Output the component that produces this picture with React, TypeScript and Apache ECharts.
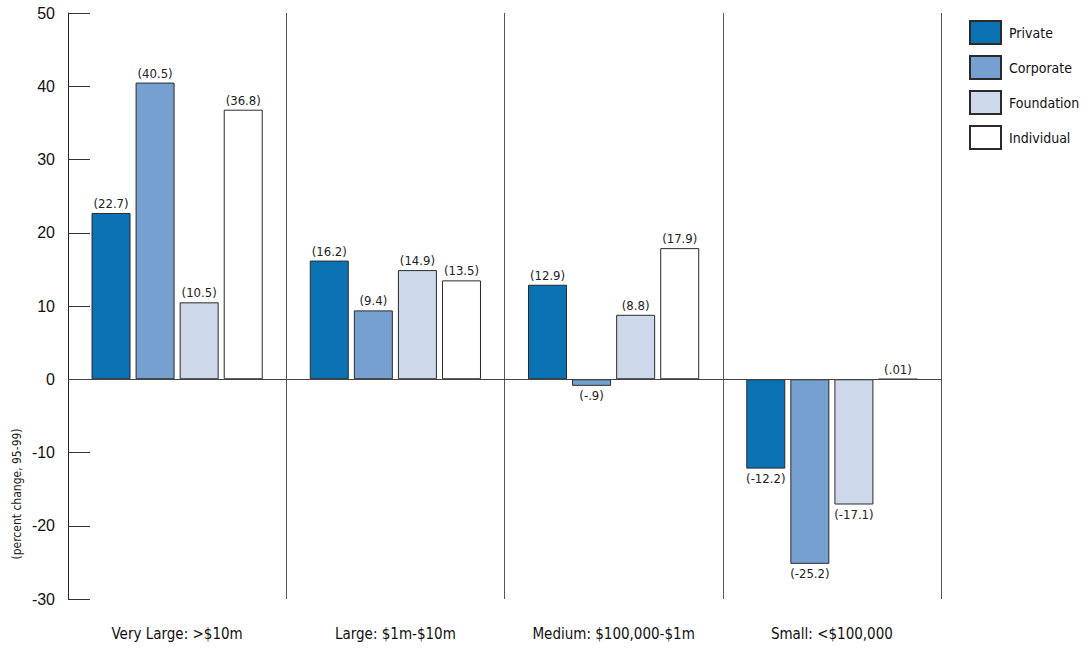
import React, { useEffect, useRef } from "react";
import * as echarts from "echarts";

const categories = ["Very Large: >$10m", "Large: $1m-$10m", "Medium: $100,000-$1m", "Small: <$100,000"];
const seriesNames = ["Private", "Corporate", "Foundation", "Individual"];
const privateVals = [22.7, 16.2, 12.9, -12.2];
const corporateVals = [40.5, 9.4, -0.9, -25.2];
const foundationVals = [10.5, 14.9, 8.8, -17.1];
const individualVals = [36.8, 13.5, 17.9, 0.01];
const colors = ["#0a72b2", "#76a0cf", "#cdd9ea", "#ffffff"];
const yTicks = { min: -30, max: 50, interval: 10 };

const FONT = "'Liberation Sans Narrow', 'DejaVu Sans Condensed', sans-serif";

// "(.01)", "(-.9)", "(40.5)" style value labels
const fmt = (v: number) => {
  let s = String(v);
  s = s.replace(/^0\./, ".").replace(/^-0\./, "-.");
  return `(${s})`;
};

export default function App() {
  const ref = useRef<HTMLDivElement>(null);
  useEffect(() => {
    if (!ref.current) return;
    const chart = echarts.init(ref.current, undefined, { renderer: "svg" });
    const all = [privateVals, corporateVals, foundationVals, individualVals];
    chart.setOption({
      animation: false,
      backgroundColor: "#ffffff",
      textStyle: { fontFamily: FONT },
      grid: { left: 68, right: 151, top: 13, bottom: 50 },
      legend: {
        orient: "vertical",
        left: 969,
        top: 20,
        padding: 0,
        itemWidth: 31,
        itemHeight: 23,
        itemGap: 10,
        icon: "rect",
        textStyle: { fontFamily: FONT, fontSize: 14, color: "#111", padding: [0, 0, 0, 3] },
        data: seriesNames,
      },
      xAxis: {
        type: "category",
        data: categories,
        axisLine: { show: false },
        axisTick: { show: false },
        splitLine: { show: true, lineStyle: { color: "#555", width: 1 } },
        axisLabel: { fontFamily: FONT, fontSize: 15, color: "#111", margin: 27 },
      },
      yAxis: {
        type: "value",
        min: yTicks.min,
        max: yTicks.max,
        interval: yTicks.interval,
        axisLine: { show: true, lineStyle: { color: "#222", width: 1 } },
        axisTick: { show: true, inside: true, length: 22, lineStyle: { color: "#333" } },
        splitLine: { show: false },
        axisLabel: { fontFamily: "'Liberation Sans', Arial, sans-serif", fontSize: 16, color: "#111", margin: 13 },
      },
      graphic: [
        {
          type: "text",
          x: 17,
          y: 494,
          rotation: Math.PI / 2,
          style: {
            text: "(percent change, 95-99)",
            fontFamily: FONT,
            fontSize: 12,
            fill: "#222",
            align: "center",
            verticalAlign: "middle",
          },
        },
      ],
      series: seriesNames.map((name, i) => ({
        name,
        type: "bar",
        barWidth: 39,
        barGap: "13%",
        itemStyle: { color: colors[i], borderColor: "#2a2a2a", borderWidth: 1 },
        label: {
          show: true,
          fontFamily: FONT,
          fontSize: 13,
          color: "#222",
          distance: 3,
          formatter: (p: any) => fmt(p.value),
        },
        data: all[i].map((v) => ({
          value: v,
          label: { position: v < 0 ? "bottom" : "top" },
        })),
        markLine:
          i === 0
            ? {
                silent: true,
                symbol: "none",
                label: { show: false },
                lineStyle: { color: "#444", width: 1, type: "solid" },
                data: [{ yAxis: 0 }],
              }
            : undefined,
      })),
    });
    return () => chart.dispose();
  }, []);
  return <div ref={ref} style={{ width: 1092, height: 649, position: "absolute", left: 0, top: 0 }} />;
}
